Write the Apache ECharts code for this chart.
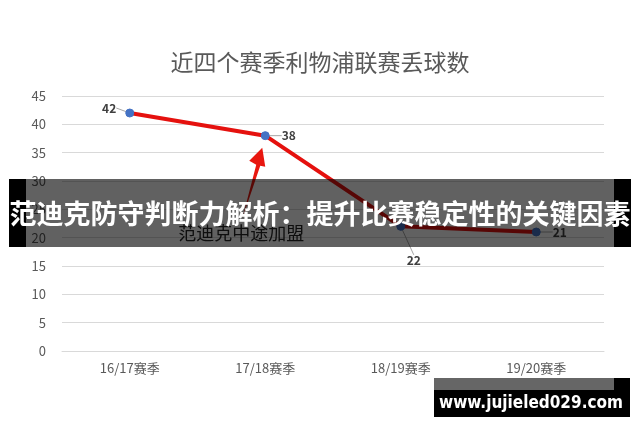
<!DOCTYPE html>
<html>
<head>
<meta charset="utf-8">
<script src="https://cdn.jsdelivr.net/npm/echarts@6/dist/echarts.min.js"></script>
<style>
html,body{margin:0;padding:0;background:#fff;}
#c{width:640px;height:426px;}
</style>
</head>
<body>
<div id="c"></div>
<script>
var title = '近四个赛季利物浦联赛丢球数';
var seasons = ['16/17赛季', '17/18赛季', '18/19赛季', '19/20赛季'];
var goalsConceded = [42, 38, 22, 21];
var annotationText = '范迪克中途加盟';
var bannerText = '范迪克防守判断力解析：提升比赛稳定性的关键因素';
var watermarkText = 'www.jujieled029.com';

var FONT = '"Noto Sans CJK SC", "Microsoft YaHei", sans-serif';
var chart = echarts.init(document.getElementById('c'), null, {renderer: 'canvas'});

var labelPos = ['left', 'right', 'bottom', 'right'];
var seriesData = goalsConceded.map(function (v, i) {
  return { value: v, label: { position: labelPos[i] } };
});

chart.setOption({
  backgroundColor: '#ffffff',
  animation: false,
  title: {
    text: title,
    left: 'center',
    top: 46,
    textStyle: { fontFamily: FONT, fontSize: 23, fontWeight: 'normal', color: '#595959' }
  },
  grid: { left: 62, right: 36, top: 96, bottom: 75 },
  xAxis: {
    type: 'category',
    data: seasons,
    boundaryGap: true,
    axisLine: { show: true, lineStyle: { color: '#d9d9d9' } },
    axisTick: { show: false },
    axisLabel: { fontFamily: FONT, fontSize: 13, color: '#595959', margin: 11 }
  },
  yAxis: {
    type: 'value',
    min: 0, max: 45, interval: 5,
    axisLine: { show: false },
    axisTick: { show: false },
    axisLabel: { fontFamily: FONT, fontSize: 13, color: '#595959', margin: 16 },
    splitLine: { lineStyle: { color: '#d9d9d9', width: 1 } }
  },
  series: [{
    type: 'line',
    data: seriesData,
    symbol: 'circle',
    symbolSize: 8,
    lineStyle: { color: '#e5110e', width: 4 },
    itemStyle: { color: '#4472c4', borderColor: '#4472c4' },
    label: {
      show: true,
      fontFamily: FONT,
      fontSize: 12,
      fontWeight: 'bold',
      color: '#404040',
      distance: 12
    },
    labelLine: { show: true, lineStyle: { color: '#a6a6a6', width: 1 } },
    labelLayout: function (p) {
      if (p.dataIndex === 0) return { dx: 3, dy: -5 };
      if (p.dataIndex === 2) return { dx: 13, dy: 12 };
      return {};
    },
    z: 3
  }]
});

// Annotation + overlays, positioned from the axis scale
var pt = chart.convertToPixel({ seriesIndex: 0 }, [1, goalsConceded[1]]);
var tipX = pt[0] - 3, tipY = pt[1] + 12;
var arrowPts = [
  [tipX, tipY],
  [tipX + 3, tipY + 19],
  [tipX - 2, tipY + 18],
  [tipX - 20, tipY + 71],
  [tipX - 6, tipY + 17],
  [tipX - 13, tipY + 13]
];
chart.setOption({
  graphic: [
    {
      type: 'polygon', z: 50,
      shape: { points: arrowPts },
      style: { fill: '#e8170f' }
    },
    {
      type: 'text', z: 50,
      x: pt[0] - 24, y: pt[1] + 97,
      style: {
        text: annotationText, fill: '#262626',
        font: '18px ' + FONT, textAlign: 'center', textVerticalAlign: 'middle'
      }
    },
    {
      type: 'rect', z: 100,
      shape: { x: 9, y: 179, width: 17, height: 68 },
      style: { fill: '#000000' }
    },
    {
      type: 'rect', z: 100,
      shape: { x: 614, y: 179, width: 17, height: 68 },
      style: { fill: '#000000' }
    },
    {
      type: 'rect', z: 101,
      shape: { x: 26, y: 179, width: 588, height: 68 },
      style: { fill: 'rgba(0,0,0,0.62)' }
    },
    {
      type: 'text', z: 102,
      x: 320, y: 214,
      style: {
        text: bannerText, fill: '#ffffff',
        font: 'bold 27px ' + FONT, textAlign: 'center', textVerticalAlign: 'middle'
      }
    },
    {
      type: 'rect', z: 100,
      shape: { x: 434, y: 378, width: 196, height: 39 },
      style: { fill: '#000000' }
    },
    {
      type: 'rect', z: 101,
      shape: { x: 434, y: 378, width: 180, height: 12 },
      style: { fill: '#666666' }
    },
    {
      type: 'text', z: 102,
      x: 531, y: 404,
      style: {
        text: watermarkText, fill: '#ffffff',
        font: 'bold 17px "DejaVu Sans Condensed", "DejaVu Sans", sans-serif', textAlign: 'center', textVerticalAlign: 'middle'
      }
    }
  ]
});
</script>
</body>
</html>
